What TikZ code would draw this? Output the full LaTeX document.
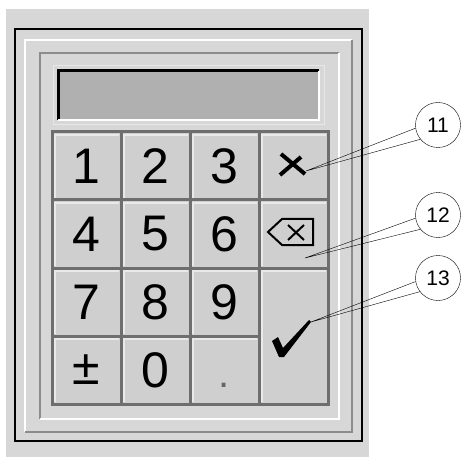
\documentclass[tikz,border=0pt]{standalone}
\usepackage{fontspec}
\setmainfont{Liberation Sans}
\usetikzlibrary{positioning}

\definecolor{panelgray}{HTML}{D7D7D7}
\definecolor{keygray}{HTML}{CFCFCF}
\definecolor{seamgray}{HTML}{6E6E6E}
\definecolor{bevelgray}{HTML}{8C8C8C}
\definecolor{lcdgray}{HTML}{B0B0B0}

\tikzset{
  keybox/.style={draw=seamgray, line width=3pt, fill=keygray, outer sep=0pt,
    minimum width=69pt, minimum height=68pt, inner sep=0pt,
    font=\fontsize{50}{50}\selectfont,
    path picture={\draw[white!55!keygray, line width=2pt]
      ([shift={(3pt,2pt)}]path picture bounding box.south west) |-
      ([shift={(-2pt,-3pt)}]path picture bounding box.north east);}},
  callout/.style={circle, draw, thin, fill=white, minimum size=45pt, inner sep=0pt,
    font=\fontsize{21}{21}\selectfont},
  leader/.style={thin, black},
}

\begin{document}
\begin{tikzpicture}[x=1pt, y=-1pt]
    \useasboundingbox (0,0) rectangle (463,457);
    % Panel and frame
    \fill[panelgray] (6,9) rectangle (369,457);
    \draw[black, line width=1.5pt] (15,29) rectangle (362,441);
    % raised bevel
    \draw[white, line width=2.5pt] (25,432) -- (25,40) -- (352,40);
    \draw[bevelgray, line width=2.5pt] (352,40) -- (352,432) -- (25,432);
    % sunken bevel
    \draw[bevelgray, line width=2.5pt] (40,419) -- (40,53) -- (339,53);
    \draw[white, line width=2.5pt] (339,53) -- (339,419) -- (40,419);

    % Display
    \draw[white!40!panelgray, line width=1pt] (53,66) rectangle (324,125);
    \fill[lcdgray] (58,71) rectangle (319,120);
    \draw[black, line width=3pt] (58,120) -- (58,71) -- (319,71);
    \draw[white, line width=2.5pt] (319,71) -- (319,120) -- (58,120);

    % Keys
    \foreach \lab/\col/\row in {1/0/0, 2/1/0, 3/2/0, 4/0/1, 5/1/1, 6/2/1,
                                7/0/2, 8/1/2, 9/2/2, ±/0/3, 0/1/3}
      \node[keybox] (k\col\row) at (86.5+69*\col, 166+68*\row) {\lab};
    \node[keybox, text=black!60] (k23) at (224.5,370) {\vphantom{0}\fontsize{40}{40}\selectfont.};
    \node[keybox] (kx) at (293.5,166) {};
    \node[keybox] (kbs) at (293.5,234) {};
    \node[keybox, minimum height=136pt] (kok) at (293.5,336) {};

    % Cancel mark
    \draw[line width=4pt] (281,154) -- (305,174);
    \draw[line width=4pt] (301,157) -- (280,175);
    % Backspace mark
    \draw[line width=2pt, line join=miter] (268,232) -- (282,219) -- (313,219) -- (313,245) -- (282,245) -- cycle;
    \draw[line width=2pt] (288,225) -- (304,240) (304,225) -- (288,240);
    % Enter mark
    \fill (272,341) -- (278,337) -- (283,348) -- (309,320) -- (311,322) -- (284,357) -- (279,357) -- cycle;

    % Callouts
    \coordinate (p11) at (306,171);
    \coordinate (p12) at (305,258);
    \coordinate (p13) at (311,322);
    \node[callout] (c11) at (438,125) {11};
    \node[callout] (c12) at (438,215) {12};
    \node[callout] (c13) at (438,278) {13};
    \draw[leader] (c11.188) -- (p11) -- (c11.219);
    \draw[leader] (c12.188) -- (p12) -- (c12.219);
    \draw[leader] (c13.189) -- (p13) -- (c13.217);
\end{tikzpicture}
\end{document}
